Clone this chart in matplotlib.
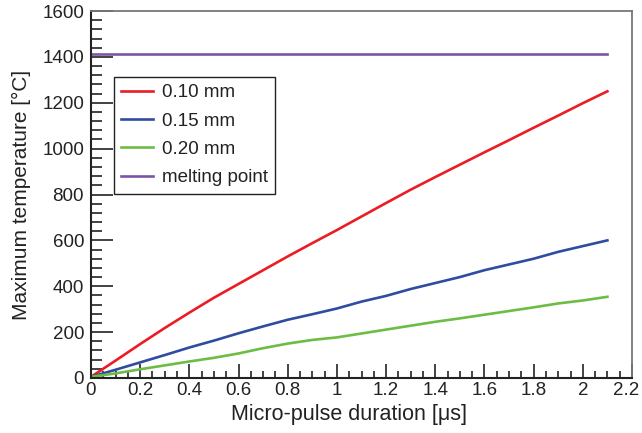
import matplotlib
matplotlib.use("Agg")
import matplotlib.pyplot as plt
import matplotlib.transforms as mtransforms
from matplotlib.ticker import MultipleLocator, FormatStrFormatter

plt.rcParams['font.family'] = ['Liberation Sans', 'DejaVu Sans']

# micro-pulse duration [us]
duration = [0.0, 0.1, 0.2, 0.3, 0.4, 0.5, 0.6, 0.7, 0.8, 0.9, 1.0,
            1.1, 1.2, 1.3, 1.4, 1.5, 1.6, 1.7, 1.8, 1.9, 2.0, 2.1]
# max temperature [C] for each spot size
t_010 = [5, 76, 148, 218, 285, 350, 410, 470, 530, 588, 645,
         704, 763, 821, 876, 930, 984, 1037, 1091, 1144, 1198, 1250]
t_015 = [5, 36, 68, 100, 133, 163, 195, 225, 254, 278, 303,
         333, 358, 388, 414, 440, 470, 495, 520, 550, 575, 600]
t_020 = [5, 20, 38, 55, 72, 88, 107, 130, 150, 166, 177,
         194, 211, 228, 245, 260, 276, 292, 308, 325, 338, 354]
melting = 1414
labels = ["0.10 mm", "0.15 mm", "0.20 mm", "melting point"]
colors = ["#ec1c24", "#2e4da0", "#6cbd45", "#7b55a6"]
xticks = [0, 0.2, 0.4, 0.6, 0.8, 1.0, 1.2, 1.4, 1.6, 1.8, 2.0, 2.2]

fig = plt.figure(figsize=(6.42, 4.33), dpi=100)
ax = fig.add_axes([91/642, 1 - 378/433, 541/642, 367/433])

ax.plot(duration, t_010, color=colors[0], lw=1.9, label=labels[0])
ax.plot(duration, t_015, color=colors[1], lw=1.9, label=labels[1])
ax.plot(duration, t_020, color=colors[2], lw=1.9, label=labels[2])
ax.plot([duration[0], duration[-1]], [melting, melting], color=colors[3], lw=1.9, label=labels[3])

ax.set_xlim(0, 2.2)
ax.set_ylim(0, 1600)
ax.set_xticks(xticks)
ax.xaxis.set_minor_locator(MultipleLocator(0.05))
ax.yaxis.set_major_locator(MultipleLocator(200))
ax.yaxis.set_minor_locator(MultipleLocator(40))
ax.xaxis.set_major_formatter(FormatStrFormatter('%g'))

ax.tick_params(axis='both', which='both', direction='in', top=False, right=False,
               labelsize=13.5, colors='#222222', width=1.2)
ax.tick_params(axis='x', which='major', length=10, pad=3)
ax.tick_params(axis='x', which='minor', length=5)
ax.tick_params(axis='y', which='major', length=16, pad=5)
ax.tick_params(axis='y', which='minor', length=8)

ax.spines['left'].set_color('#222222')
ax.spines['bottom'].set_color('#222222')
ax.spines['left'].set_linewidth(1.5)
ax.spines['bottom'].set_linewidth(1.5)
ax.spines['top'].set_color('#777777')
ax.spines['right'].set_color('#777777')
ax.spines['top'].set_linewidth(1.3)
ax.spines['right'].set_linewidth(1.3)

ax.set_xlabel("Micro-pulse duration [μs]", fontsize=15.5, color='#222222')
ax.set_ylabel("Maximum temperature [°C]", fontsize=15, color='#222222')
ax.xaxis.set_label_coords(0.476, -0.07)
ax.yaxis.set_label_coords(-0.111, 0.5)

leg = ax.legend(loc='upper left', bbox_to_anchor=(0.0425, 0.82), borderaxespad=0,
                fancybox=False, fontsize=13.5, handlelength=1.7, handletextpad=0.5,
                labelspacing=0.6, borderpad=0.38, framealpha=1)
leg.get_frame().set_edgecolor('#222222')
leg.get_frame().set_linewidth(1.0)
for t in leg.get_texts():
    t.set_color('#222222')

# "2.2" sits on the right edge, shift it a little left so it stays inside
fig.canvas.draw()
last = ax.xaxis.get_major_ticks()[-1].label1
last.set_transform(last.get_transform() + mtransforms.ScaledTranslation(-4/72, 0, fig.dpi_scale_trans))

fig.savefig("out.png", dpi=100)
